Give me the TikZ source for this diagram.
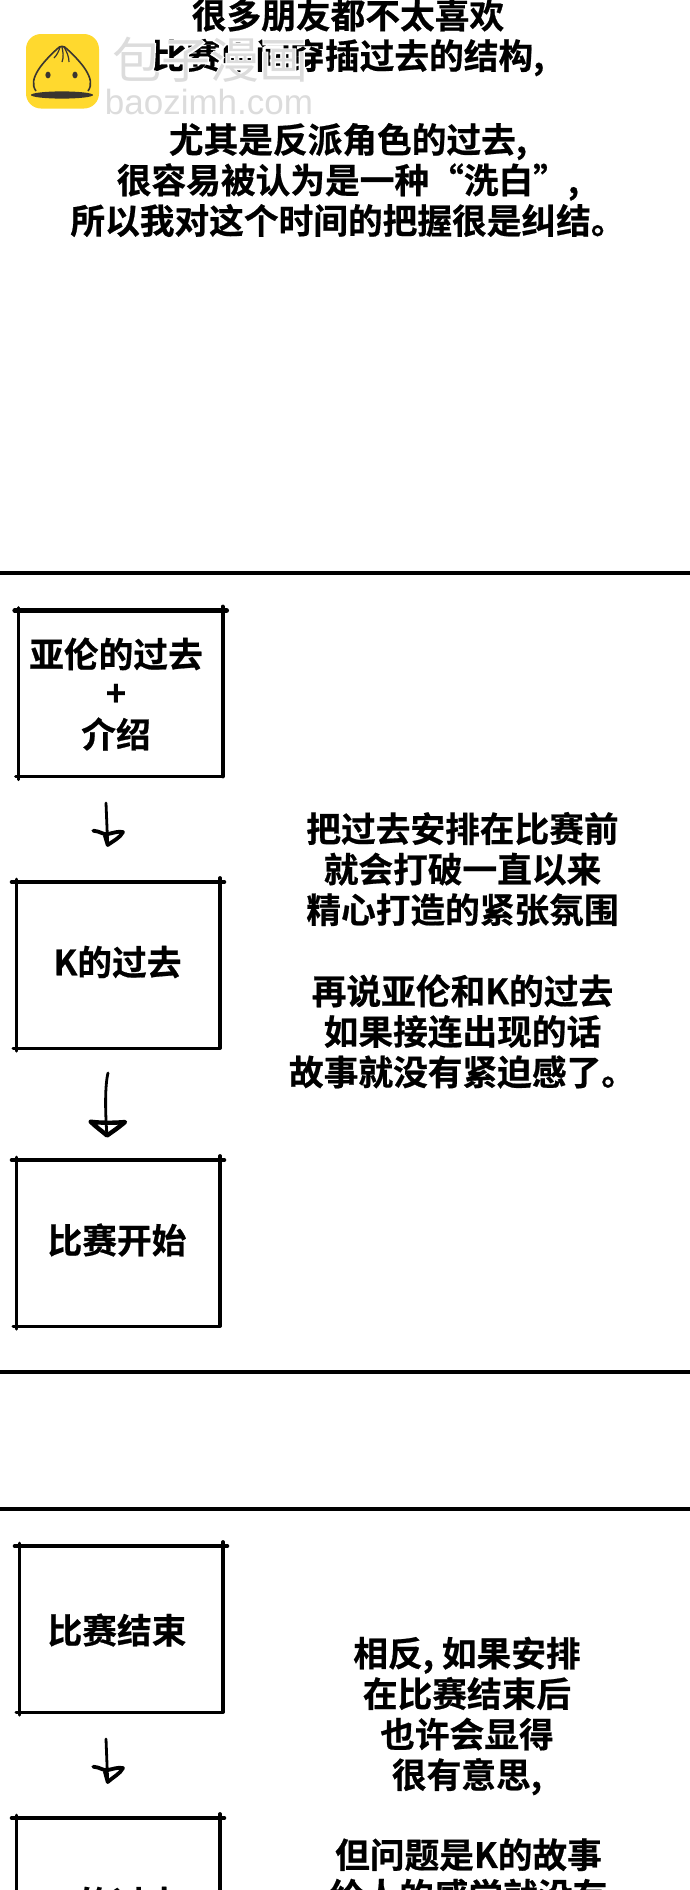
\documentclass[tikz,border=0pt]{standalone}
\usepackage{fontspec}
\usetikzlibrary{calc}
\setmainfont{Noto Sans CJK SC}[BoldFont=* Bold]
\newfontfamily\cjkheavy{Noto Sans CJK SC Bold}[FakeBold=0.6]
\newfontfamily\wmcjk{Noto Sans CJK SC}
\newfontfamily\wmcjkhalo{Noto Sans CJK SC}[FakeBold=5]
\newfontfamily\wmlat{Liberation Sans}
\definecolor{bunyellow}{HTML}{FFD92E}
\definecolor{bundark}{HTML}{3A3530}
\definecolor{wmgrey}{HTML}{DCDCDC}
\tikzset{
  boxnode/.style={minimum width=#1, minimum height=166pt, inner sep=0pt, outer sep=0pt},
  boxnode/.default=204pt,
  say/.style={align=center, inner sep=0pt, outer sep=0pt, text=black,
    font=\cjkheavy\fontsize{34.7}{40.5}\selectfont},
  rule/.style={line width=3.5pt, black},
  skA/.style={line width=4.6pt, line cap=round},
  skB/.style={line width=3.8pt, line cap=round},
  skC/.style={line width=3pt, line cap=round},
  shaft/.style={line width=2.8pt, line cap=round, line join=round},
  head/.style={line width=3.8pt, line cap=round, line join=round}
}
\newcommand{\skbox}[1]{%
  \draw[skA] ($(#1.north west)+(-4,0)$) -- ($(#1.north east)+(4,0)$);
  \draw[skC] ($(#1.north west)+(0,-3)$) -- ($(#1.south west)+(0,3)$);
  \draw[skB] ($(#1.north east)+(0,-4)$) -- (#1.south east);
  \draw[skC] ($(#1.south west)+(-3,0)$) -- (#1.south east);
}
\begin{document}
\begin{tikzpicture}[x=1pt,y=-1pt]
\useasboundingbox (0,0) rectangle (690,1890);
\fill[white] (0,0) rectangle (690,1890);

% top text
\node[say] (t1) at (348,37.5) {很多朋友都不太喜欢\\比赛中间穿插过去的结构,};
\node[say] (t2) at (348,180) {尤其是反派角色的过去,\\很容易被认为是一种“洗白”,\\所以我对这个时间的把握很是纠结。};

% watermark
\node[inner sep=0pt, outer sep=0pt, text=wmgrey, font=\fontsize{49}{49}\selectfont] (wm1) at (210,60)
  {\rlap{\wmcjkhalo\color{white}包子漫画}\wmcjk 包子漫画};
\node[inner sep=0pt, outer sep=0pt, text=wmgrey, font=\wmlat\fontsize{35}{35}\selectfont] (wm2) at (209,102) {baozimh.com};
\fill[bunyellow, rounded corners=15pt] (26,34) rectangle (99,108.5);
\draw[bundark, line width=1.6pt, fill=bunyellow] (36,91) .. controls (27,79) and (44,61) .. (57,49) .. controls (60,45.5) and (64,45.5) .. (67,49) .. controls (80,61) and (97,79) .. (88,91);
\draw[bundark, line width=1.2pt] (60,47) .. controls (59,51) and (57,55) .. (54,58);
\draw[bundark, line width=1.2pt] (62,47) .. controls (63,52) and (64,57) .. (62,62);
\draw[bundark, line width=1.2pt] (64,47) .. controls (67,52) and (69,57) .. (69,62);
\fill[bundark] (48,75) ellipse [x radius=2.6pt, y radius=3.4pt];
\fill[bundark] (75,75) ellipse [x radius=2.6pt, y radius=3.4pt];
\fill[bundark] (62,95) ellipse [x radius=31pt, y radius=3.6pt];

% rules
\coordinate (r1l) at (0,573); \coordinate (r1r) at (690,573);
\coordinate (r2l) at (0,1372); \coordinate (r2r) at (690,1372);
\coordinate (r3l) at (0,1509); \coordinate (r3r) at (690,1509);
\draw[rule] (r1l) -- (r1r);
\draw[rule] (r2l) -- (r2r);
\draw[rule] (r3l) -- (r3r);

% boxes
\node[boxnode] (b1) at (120.7,693.5) {};
\node[boxnode] (b2) at (118,965) {};
\node[boxnode] (b3) at (118,1243) {};
\node[boxnode] (b4) at (121,1629) {};
\node[boxnode] (b5) at (118,1901) {};
\skbox{b1}\skbox{b2}\skbox{b3}\skbox{b4}\skbox{b5}

% box labels
\node[say] (l1a) at (116,654) {亚伦的过去};
\node[say] (l1b) at (116,695) {+};
\node[say] (l1c) at (116,734) {介绍};
\node[say] (l2) at (117.5,962) {K的过去};
\node[say] (l3) at (117,1240) {比赛开始};
\node[say] (l4) at (117,1630) {比赛结束};
\node[say] (l5) at (117.5,1903) {K的过去};

% arrows
\coordinate (a1s) at (106,803); \coordinate (a1e) at (107.7,845);
\draw[shaft] (a1s) -- (a1e);
\draw[head] (93.3,830.7) .. controls (100,831) and (103,835) .. (108,834) .. controls (113,833) and (118,831) .. (123,832) .. controls (120,838) and (113,841) .. (a1e) -- (105,836);

\coordinate (a2s) at (108,1073); \coordinate (a2e) at (107,1135.5);
\draw[shaft] (a2s) .. controls (105,1085) and (105,1110) .. (a2e);
\draw[head, line width=4.4pt] (90.7,1121.7) .. controls (100,1123) and (115,1123) .. (125,1122) .. controls (118,1128) and (112,1132) .. (a2e) .. controls (102,1131) and (96,1127) .. (90.7,1121.7);

\coordinate (a3s) at (106,1739); \coordinate (a3e) at (107.7,1782);
\draw[shaft] (a3s) -- (a3e);
\draw[head] (93.3,1766.7) .. controls (100,1767) and (103,1771) .. (108,1770) .. controls (113,1769) and (118,1767) .. (123,1768) .. controls (120,1774) and (113,1777) .. (a3e) -- (105,1772);

% right texts
\node[say] (m1) at (462.5,869) {把过去安排在比赛前\\就会打破一直以来\\精心打造的紧张氛围};
\node[say] (m2) at (462.5,1031.5) {再说亚伦和K的过去\\如果接连出现的话\\故事就没有紧迫感了。};
\node[say] (m3) at (467,1716) {相反, 如果安排\\在比赛结束后\\也许会显得\\很有意思,};
\node[say] (m4) at (468.5,1875) {但问题是K的故事\\给人的感觉就没有};
\end{tikzpicture}
\end{document}
